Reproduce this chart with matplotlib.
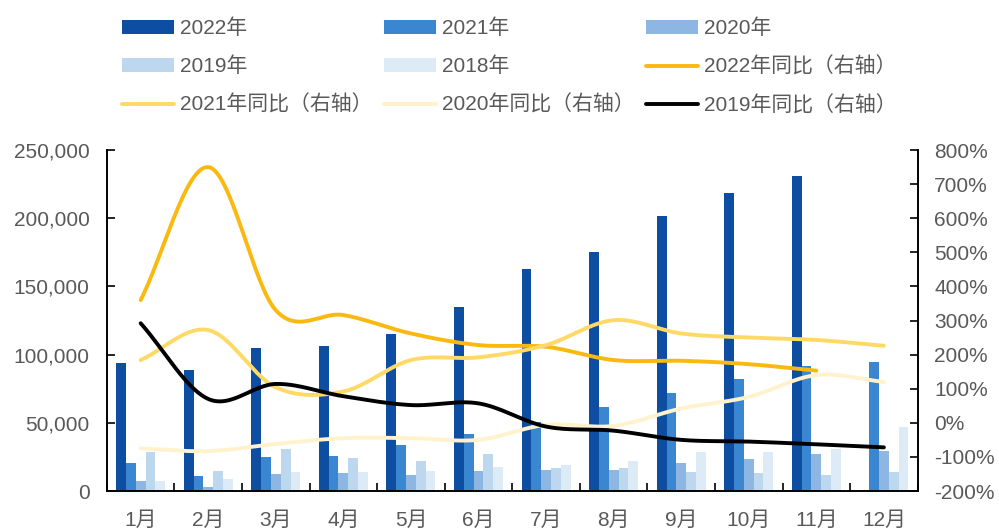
import numpy as np
import matplotlib
matplotlib.use("Agg")
import matplotlib.pyplot as plt
from matplotlib.ticker import FuncFormatter, FixedLocator

plt.rcParams['font.family'] = ['Liberation Sans', 'Noto Sans CJK SC', 'DejaVu Sans']

months = ['1月', '2月', '3月', '4月', '5月', '6月', '7月', '8月', '9月', '10月', '11月', '12月']

# monthly volume
v2022 = [93800, 88700, 105000, 106500, 115000, 134600, 163000, 175400, 201600, 218200, 231200, np.nan]
v2021 = [20800, 11000, 24700, 26000, 33700, 41800, 50800, 61800, 71600, 81900, 91600, 94800]
v2020 = [7300, 3200, 12700, 13400, 11700, 14400, 15400, 15400, 20300, 23500, 27100, 29300]
v2019 = [28800, 14700, 30500, 24400, 22200, 27100, 17100, 17100, 14200, 13000, 11700, 13700]
v2018 = [7600, 8800, 14200, 14200, 14700, 17600, 19000, 22200, 28400, 28400, 30500, 47100]

# year-on-year, %
yoy2022 = [360, 750, 330, 316, 262, 228, 223, 184, 182, 172, 153]
yoy2021 = [184, 272, 104, 92, 184, 192, 228, 301, 262, 250, 243, 226]
yoy2020 = [-75, -83, -62, -45, -45, -50, -6, -9, 42, 76, 140, 120]
yoy2019 = [292, 70, 114, 78, 52, 57, -11, -23, -50, -55, -63, -72]

bar_colors = ['#0d4ea3', '#3a86d0', '#8db7e2', '#bdd7ee', '#ddebf7']
line_colors = ['#fbb80f', '#ffd966', '#fff2cc', '#000000']
txt = '#595959'


def smooth(x, y, n=30):
    # catmull-rom through the points, like excel's smoothed line
    x = np.asarray(x, float)
    y = np.asarray(y, float)
    px = np.concatenate([[2 * x[0] - x[1]], x, [2 * x[-1] - x[-2]]])
    py = np.concatenate([[2 * y[0] - y[1]], y, [2 * y[-1] - y[-2]]])
    xs, ys = [], []
    t = np.linspace(0, 1, n)
    for i in range(1, len(px) - 2):
        for arr, out in ((px, xs), (py, ys)):
            p0, p1, p2, p3 = arr[i - 1], arr[i], arr[i + 1], arr[i + 2]
            out.extend(0.5 * (2 * p1 + (-p0 + p2) * t
                              + (2 * p0 - 5 * p1 + 4 * p2 - p3) * t ** 2
                              + (-p0 + 3 * p1 - 3 * p2 + p3) * t ** 3))
    return xs, ys


fig = plt.figure(figsize=(9.99, 5.29), dpi=100)
ax = fig.add_axes([0.107, 0.0718, 0.8116, 0.6446])
ax2 = ax.twinx()

x = np.arange(len(months))
w = 0.145
handles = []
for k, (vals, lab) in enumerate(zip([v2022, v2021, v2020, v2019, v2018],
                                     ['2022年', '2021年', '2020年', '2019年', '2018年'])):
    h = ax.bar(x + (k - 2) * w, vals, width=w, color=bar_colors[k], label=lab, zorder=2)
    handles.append(h)

lh = []
for vals, col, lab in zip([yoy2022, yoy2021, yoy2020, yoy2019], line_colors,
                          ['2022年同比（右轴）', '2021年同比（右轴）', '2020年同比（右轴）', '2019年同比（右轴）']):
    sx, sy = smooth(np.arange(len(vals)), vals)
    l, = ax2.plot(sx, sy, color=col, lw=2.8, solid_capstyle='round', label=lab, zorder=3)
    lh.append(l)

ax.set_xlim(-0.5, 11.5)
ax.set_ylim(0, 250000)
ax.set_yticks(np.arange(0, 250001, 50000))
ax.yaxis.set_major_formatter(FuncFormatter(lambda v, p: f'{int(v):,}'))
ax2.set_ylim(-200, 800)
ax2.set_yticks(np.arange(-200, 801, 100))
ax2.yaxis.set_major_formatter(FuncFormatter(lambda v, p: f'{int(v)}%'))

ax.set_xticks(x)
ax.set_xticklabels(months)
ax.xaxis.set_minor_locator(FixedLocator(np.arange(-0.5, 12, 1)))
ax.tick_params(axis='x', which='major', length=0, pad=14, labelsize=15, labelcolor=txt)
ax.tick_params(axis='x', which='minor', direction='in', length=6, width=1.2)
ax.tick_params(axis='y', direction='in', length=6, width=1.2, labelsize=15, labelcolor=txt, pad=12.5)
ax2.tick_params(axis='y', direction='in', length=6, width=1.2, labelsize=15, labelcolor=txt, pad=12)

for a in (ax, ax2):
    a.spines['top'].set_visible(False)
    for s in ('left', 'right', 'bottom'):
        a.spines[s].set_linewidth(1.2)
ax.set_zorder(ax2.get_zorder() - 1)
ax2.patch.set_visible(False)

# legend filled column by column, so reorder to read row by row
allh = handles + lh
order = [0, 3, 6, 1, 4, 7, 2, 5, 8]
leg = fig.legend([allh[i] for i in order], [allh[i].get_label() for i in order],
                 ncol=3, loc='upper left', bbox_to_anchor=(0.122, 0.965),
                 borderpad=0, borderaxespad=0,
                 frameon=False, fontsize=15, handlelength=2.5, handleheight=0.63,
                 handletextpad=0.3, columnspacing=0.53, labelspacing=0.88, labelcolor=txt)

fig.savefig('out.png', dpi=100)
